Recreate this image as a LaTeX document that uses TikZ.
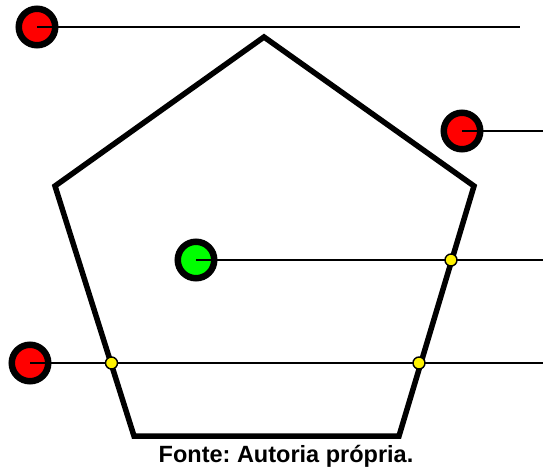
\documentclass[tikz,border=0pt]{standalone}
\usepackage{fontspec}
\setmainfont{Liberation Sans}
\frenchspacing
\begin{document}
\begin{tikzpicture}[x=1pt,y=-1pt,
  edge/.style={line width=5.5pt,line join=miter},
  ray/.style={line width=2pt},
  bigpt/.style={circle,draw=black,line width=6.5pt,minimum size=36.5pt,inner sep=0pt},
  smallpt/.style={circle,draw=black,fill=yellow,line width=1.4pt,minimum size=12pt,inner sep=0pt}]
\useasboundingbox (0,0) rectangle (543,466);
% pentagon
\coordinate (v1) at (264,37);
\coordinate (v2) at (474,186);
\coordinate (v3) at (399,436);
\coordinate (v4) at (134,436);
\coordinate (v5) at (55,186);
\draw[edge] (v1) -- (v2) -- (v3) -- (v4) -- (v5) -- cycle;
% ray ends
\coordinate (e1) at (520,27);
\coordinate (e2) at (543,131);
\coordinate (e3) at (543,260);
\coordinate (e4) at (543,363);
% rays
\draw[ray] (37,27) -- (e1);
\draw[ray] (462,131) -- (e2);
\draw[ray] (196,260) -- (e3);
\draw[ray] (30,363) -- (e4);
% points
\node[bigpt,fill=red] (p1) at (37,27) {};
\node[bigpt,fill=red] (p2) at (462,131) {};
\node[bigpt,fill=green] (p3) at (196,260) {};
\node[bigpt,fill=red] (p4) at (30,363) {};
\draw[ray] (p1.center) -- (p1.east);
\draw[ray] (p2.center) -- (p2.east);
\draw[ray] (p3.center) -- (p3.east);
\draw[ray] (p4.center) -- (p4.east);
\node[smallpt] (i1) at (451,260) {};
\node[smallpt] (i2) at (419,363) {};
\node[smallpt] (i3) at (111.5,363) {};
\node[font=\bfseries\fontsize{23.5}{26}\selectfont,anchor=base,inner sep=0pt] (cap) at (286,462) {Fonte: Autoria própria.};
\end{tikzpicture}
\end{document}
